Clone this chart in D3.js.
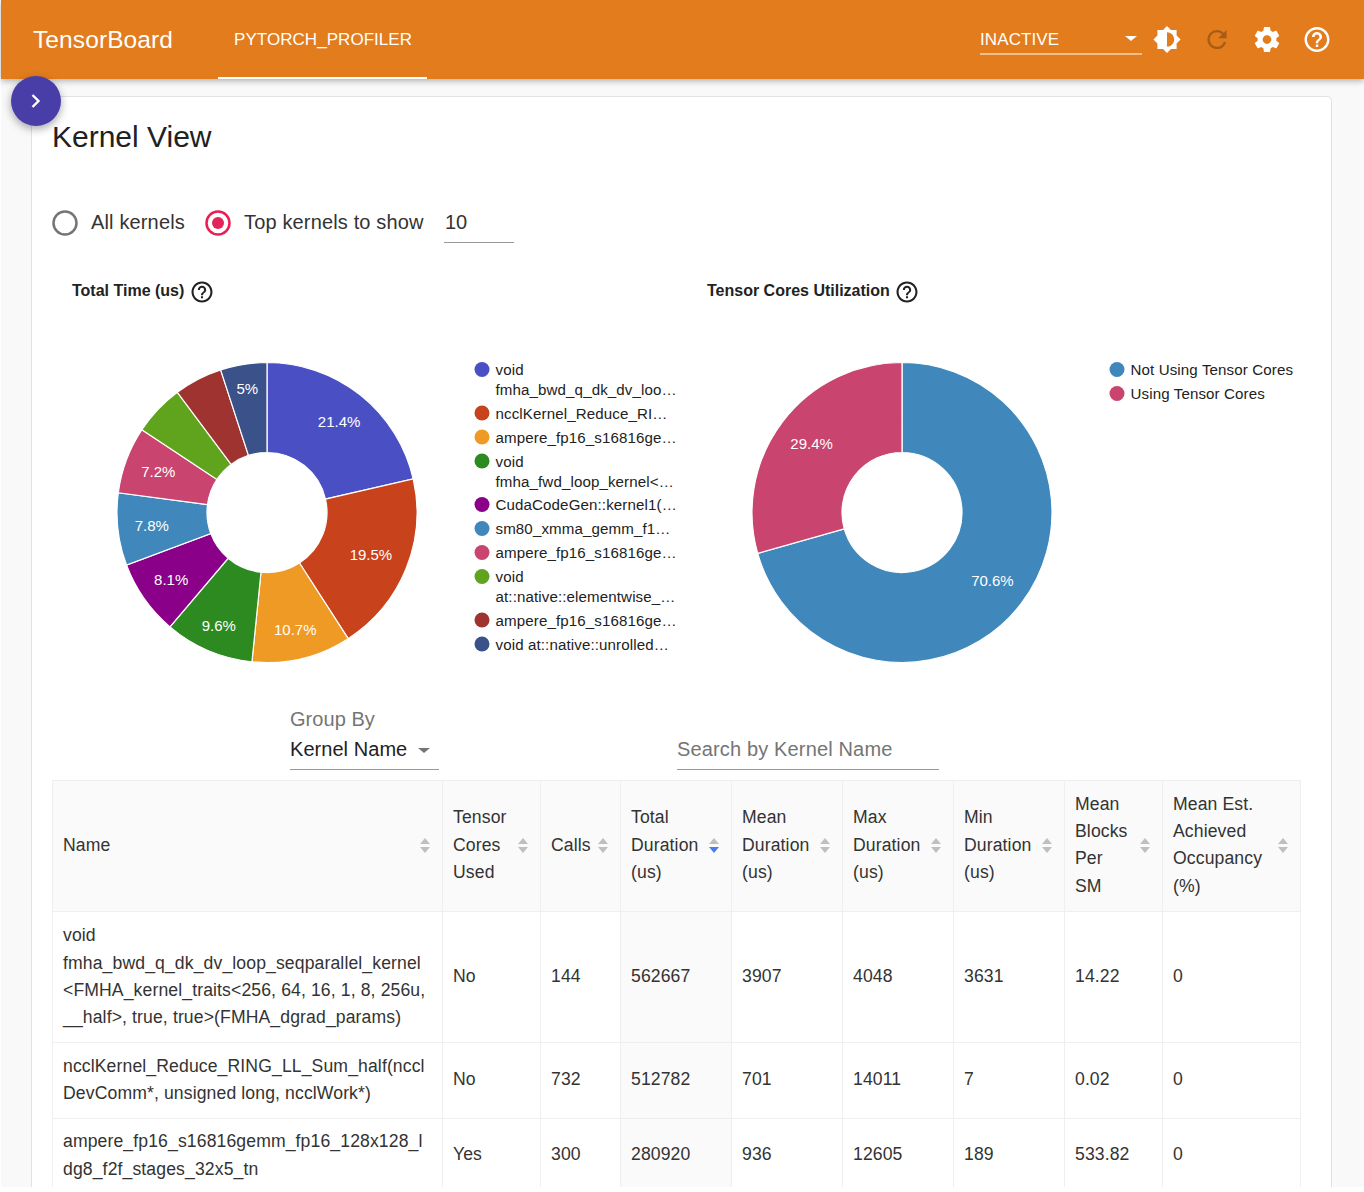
<!DOCTYPE html>
<html><head><meta charset="utf-8">
<script src="https://cdn.jsdelivr.net/npm/d3@7"></script>
<style>html,body{margin:0;padding:0;background:#fff;overflow:hidden}svg{display:block}text{font-family:"Liberation Sans",Arial,sans-serif}</style>
</head><body><svg id="c" width="1364" height="1192"></svg>
<script>
const kernelLabels=[["void","fmha_bwd_q_dk_dv_loo…"],["ncclKernel_Reduce_RI…"],["ampere_fp16_s16816ge…"],["void","fmha_fwd_loop_kernel<…"],["CudaCodeGen::kernel1(…"],["sm80_xmma_gemm_f1…"],["ampere_fp16_s16816ge…"],["void","at::native::elementwise_…"],["ampere_fp16_s16816ge…"],["void at::native::unrolled…"]];
const kernelShare=[21.4,19.5,10.7,9.6,8.1,7.8,7.2,5.5,5.2,5.0];
const kernelPctLabels=["21.4%","19.5%","10.7%","9.6%","8.1%","7.8%","7.2%","","","5%"];
const kernelColors=["#4a50c4","#c8421c","#ee9a24","#2c8a20","#8a0089","#4087bc","#c9446e","#60a31d","#9f3330","#3a5189"];
const coreLabels=["Not Using Tensor Cores","Using Tensor Cores"];
const coreShare=[70.6,29.4];
const corePctLabels=["70.6%","29.4%"];
const coreColors=["#4087bc","#c9446e"];
const columnEdges=[52,442,540,620,731,842,953,1064,1162,1300];
const columnHeads=[["Name"],["Tensor","Cores","Used"],["Calls"],["Total","Duration","(us)"],["Mean","Duration","(us)"],["Max","Duration","(us)"],["Min","Duration","(us)"],["Mean","Blocks","Per","SM"],["Mean Est.","Achieved","Occupancy","(%)"]];
const rowEdges=[911,1042,1118,1192];
const rowMiddles=[976.5,1079.5,1155];
const nameCells=[["void","fmha_bwd_q_dk_dv_loop_seqparallel_kernel","<FMHA_kernel_traits<256, 64, 16, 1, 8, 256u,","__half>, true, true>(FMHA_dgrad_params)"],["ncclKernel_Reduce_RING_LL_Sum_half(nccl","DevComm*, unsigned long, ncclWork*)"],["ampere_fp16_s16816gemm_fp16_128x128_l","dg8_f2f_stages_32x5_tn"]];
const rowValues=[["No","144","562667","3907","4048","3631","14.22","0"],["No","732","512782","701","14011","7","0.02","0"],["Yes","300","280920","936","12605","189","533.82","0"]];

const ic={sun:"M20 15.31L23.31 12 20 8.69V4h-4.69L12 .69 8.69 4H4v4.69L.69 12 4 15.31V20h4.69L12 23.31 15.31 20H20v-4.69zM12 18V6c3.31 0 6 2.69 6 6s-2.69 6-6 6z",
refresh:"M17.65 6.35C16.2 4.9 14.21 4 12 4c-4.42 0-7.99 3.58-7.99 8s3.57 8 7.99 8c3.73 0 6.84-2.55 7.73-6h-2.08c-.82 2.33-3.04 4-5.65 4-3.31 0-6-2.69-6-6s2.69-6 6-6c1.66 0 3.14.69 4.22 1.78L13 11h7V4l-2.35 2.35z",
gear:"M19.43 12.98c.04-.32.07-.64.07-.98s-.03-.66-.07-.98l2.11-1.65c.19-.15.24-.42.12-.64l-2-3.46c-.12-.22-.39-.3-.61-.22l-2.49 1c-.52-.4-1.08-.73-1.69-.98l-.38-2.65C14.46 2.18 14.25 2 14 2h-4c-.25 0-.46.18-.49.42l-.38 2.65c-.61.25-1.17.59-1.69.98l-2.49-1c-.23-.09-.49 0-.61.22l-2 3.46c-.13.22-.07.49.12.64l2.11 1.65c-.04.32-.07.65-.07.98s.03.66.07.98l-2.11 1.65c-.19.15-.24.42-.12.64l2 3.46c.12.22.39.3.61.22l2.49-1c.52.4 1.08.73 1.69.98l.38 2.65c.03.24.24.42.49.42h4c.25 0 .46-.18.49-.42l.38-2.65c.61-.25 1.17-.59 1.69-.98l2.49 1c.23.09.49 0 .61-.22l2-3.46c.12-.22.07-.49-.12-.64l-2.11-1.65zM12 15.5c-1.93 0-3.5-1.57-3.5-3.5s1.57-3.5 3.5-3.5 3.5 1.57 3.5 3.5-1.57 3.5-3.5 3.5z",
help:"M11 18h2v-2h-2v2zm1-16C6.48 2 2 6.48 2 12s4.48 10 10 10 10-4.48 10-10S17.52 2 12 2zm0 18c-4.41 0-8-3.59-8-8s3.59-8 8-8 8 3.59 8 8-3.59 8-8 8zm0-14c-2.21 0-4 1.79-4 4h2c0-1.1.9-2 2-2s2 .9 2 2c0 2-3 1.75-3 5h2c0-2.25 3-2.5 3-5 0-2.21-1.79-4-4-4z"};
const svg=d3.select("#c");
const defs=svg.append("defs");
const f=defs.append("filter").attr("id","sh").attr("x","-30%").attr("y","-30%").attr("width","160%").attr("height","170%");
f.append("feDropShadow").attr("dx",0).attr("dy",3).attr("stdDeviation",4).attr("flood-color","#000").attr("flood-opacity",.35);
const f2=defs.append("filter").attr("id","hs").attr("x","-2%").attr("y","-10%").attr("width","104%").attr("height","130%");
f2.append("feDropShadow").attr("dx",0).attr("dy",2).attr("stdDeviation",3).attr("flood-color","#000").attr("flood-opacity",.3);
const T=(x,y,s,size,fill,o={})=>svg.append("text").attr("x",x).attr("y",y).attr("font-size",size).attr("fill",fill).attr("font-weight",o.w||400).attr("letter-spacing",o.ls||0).attr("text-anchor",o.a||"start").text(s);
const I=(d,cx,cy,s,fill,o=1)=>svg.append("path").attr("d",d).attr("fill",fill).attr("opacity",o).attr("transform",`translate(${cx-12*s},${cy-12*s}) scale(${s})`);

// page and card
svg.append("rect").attr("x",1).attr("y",0).attr("width",1363).attr("height",1187).attr("fill","#f9f9f9");
svg.append("rect").attr("x",31.5).attr("y",96.5).attr("width",1300).attr("height",1200).attr("rx",4).attr("fill","#fff").attr("stroke","#e2e2e2");
// header
svg.append("rect").attr("x",1).attr("y",0).attr("width",1363).attr("height",79).attr("fill","#e27b1f").attr("filter","url(#hs)");
T(33,48,"TensorBoard",24.5,"#fff",{ls:.1});
T(234,45,"PYTORCH_PROFILER",17,"#fff",{ls:.05});
svg.append("rect").attr("x",218).attr("y",77).attr("width",209).attr("height",2).attr("fill","#fff");
T(980,44.5,"INACTIVE",17,"#fff",{ls:.1});
svg.append("path").attr("d","M1125 36h12l-6 5z").attr("fill","#fff");
svg.append("rect").attr("x",980).attr("y",53.5).attr("width",162).attr("height",1).attr("fill","#fff");
I(ic.sun,1167,39.5,1.2,"#fff");
I(ic.refresh,1217,39.5,1.2,"#000",.26);
I(ic.gear,1267,39.5,1.25,"#fff");
I(ic.help,1317,39.5,1.25,"#fff");
// fab
svg.append("circle").attr("cx",36).attr("cy",101).attr("r",25).attr("fill","#483da8").attr("filter","url(#sh)");
svg.append("path").attr("d","M32.5 95l6 6-6 6").attr("fill","none").attr("stroke","#fff").attr("stroke-width",2.4);

T(52,147,"Kernel View",30,"#212121");
// radios
svg.append("circle").attr("cx",65).attr("cy",223).attr("r",11.5).attr("fill","none").attr("stroke","#757575").attr("stroke-width",2.5);
T(91,229,"All kernels",20,"#333",{ls:.15});
svg.append("circle").attr("cx",218).attr("cy",223).attr("r",11.5).attr("fill","none").attr("stroke","#e91e52").attr("stroke-width",2.5);
svg.append("circle").attr("cx",218).attr("cy",223).attr("r",6).attr("fill","#e2245a");
T(244,229,"Top kernels to show",20,"#333",{ls:.15});
T(445,229,"10",20,"#333");
svg.append("rect").attr("x",444).attr("y",242).attr("width",70).attr("height",1).attr("fill","#999");
// chart titles
T(72,296,"Total Time (us)",16,"#222",{w:700});
I(ic.help,202,292,1.05,"#222");
T(707,296,"Tensor Cores Utilization",16,"#222",{w:700});
I(ic.help,907,292,1.05,"#222");

function donut(cx,cy,values,colors,labels){
  const pie=d3.pie().sort(null)(values);
  const arc=d3.arc().innerRadius(60).outerRadius(150);
  const g=svg.append("g").attr("transform",`translate(${cx},${cy})`);
  g.selectAll("path").data(pie).join("path").attr("d",arc).attr("fill",(d,i)=>colors[i]).attr("stroke","#fff").attr("stroke-width",1.2);
  // labels sit further out near the top and bottom of the ring, and when they are short
  const labelPos=(d,i)=>{
    const a=(d.startAngle+d.endAngle)/2, c=Math.abs(Math.cos(a));
    const r=112+10*Math.pow(c,4)+(labels[i].length<5?4:0);
    return [r*Math.sin(a),-r*Math.cos(a)];
  };
  g.selectAll("text").data(pie).join("text").attr("transform",(d,i)=>`translate(${labelPos(d,i)})`).attr("dy",5).attr("text-anchor","middle").attr("font-size",15).attr("fill","#fff").text((d,i)=>labels[i]);
}
donut(267,512.5,kernelShare,kernelColors,kernelPctLabels);
donut(902,512.5,coreShare,coreColors,corePctLabels);
function legend(x,y,labels,colors){
  let yy=y;
  labels.forEach((ls,i)=>{
    svg.append("circle").attr("cx",x).attr("cy",yy-.5).attr("r",7.5).attr("fill",colors[i]);
    ls.forEach((s,j)=>T(x+13.5,yy+5+j*20,s,15.1,"#222",{ls:.12}));
    yy+=ls.length>1?43.5:24;
  });
}
legend(482,370,kernelLabels,kernelColors);
legend(1117,370,coreLabels.map(s=>[s]),coreColors);

// controls
T(290,726,"Group By",20,"#757575",{ls:.05});
T(290,756,"Kernel Name",20,"#222",{ls:.05});
svg.append("path").attr("d","M418 748h12l-6 5z").attr("fill","#757575");
svg.append("rect").attr("x",290).attr("y",769).attr("width",149).attr("height",1).attr("fill","#999");
T(677,756,"Search by Kernel Name",20,"#757575",{ls:.15});
svg.append("rect").attr("x",677).attr("y",769).attr("width",262).attr("height",1).attr("fill","#999");

// table
const grid="#efefef";
svg.append("rect").attr("x",52).attr("y",780).attr("width",1248).attr("height",131).attr("fill","#fafafa");
svg.append("rect").attr("x",columnEdges[3]).attr("y",911).attr("width",columnEdges[4]-columnEdges[3]).attr("height",276).attr("fill","#fafafa");
[780,...rowEdges.slice(0,3)].forEach(y=>svg.append("line").attr("x1",52).attr("x2",1300).attr("y1",y+.5).attr("y2",y+.5).attr("stroke",grid));
columnEdges.forEach(x=>svg.append("line").attr("x1",x+.5).attr("x2",x+.5).attr("y1",780).attr("y2",1187).attr("stroke",grid));
const LH=27.3;
columnHeads.forEach((ls,i)=>{
  const x=columnEdges[i]+11, mid=844.7, h=ls.length*LH;
  ls.forEach((s,j)=>T(x,mid-h/2+19.5+j*LH,s,17.6,"#333",{ls:.12}));
  const sx=i==2?columnEdges[3]-17:columnEdges[i+1]-17;
  svg.append("path").attr("d",`M${sx-5} 844l5-6 5 6z`).attr("fill","#bfbfbf");
  svg.append("path").attr("d",`M${sx-5} 847l5 6 5-6z`).attr("fill",i==3?"#4a7cf0":"#bfbfbf");
});
nameCells.forEach((ls,r)=>{
  const m=rowMiddles[r], h=ls.length*LH;
  ls.forEach((s,j)=>T(63,m-h/2+19.5+j*LH,s,17.6,"#333",{ls:.12}));
  rowValues[r].forEach((v,c)=>T(columnEdges[c+1]+11,m+5.4,v,17.6,"#333",{ls:.1}));
});
// bottom strip of the screenshot
svg.append("rect").attr("x",0).attr("y",1187).attr("width",1364).attr("height",5).attr("fill","#fff");
</script></body></html>
